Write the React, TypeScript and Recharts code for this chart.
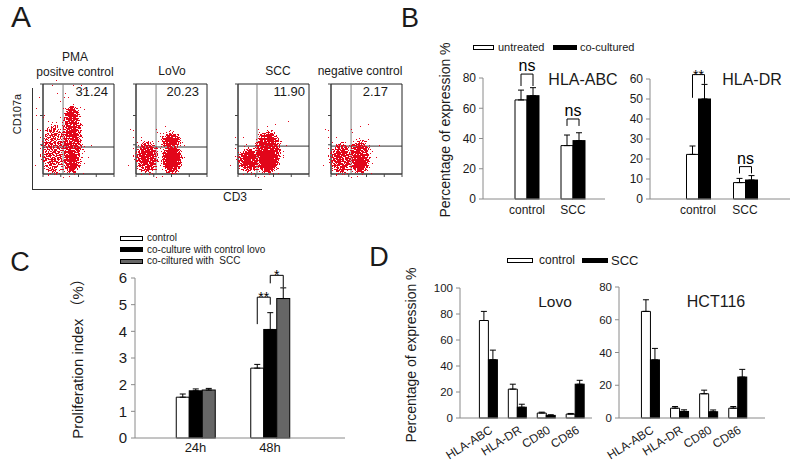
import React from "react";
import {
  Bar,
  BarChart,
  ErrorBar,
  ReferenceArea,
  ReferenceLine,
  Scatter,
  ScatterChart,
  XAxis,
  YAxis,
} from "recharts";

const FONT = '"Liberation Sans", Arial, Helvetica, sans-serif';
const CJK = '"Liberation Sans", Arial, "Noto Sans CJK SC", sans-serif';
const AXIS = "#8a8a8a";
const INK = "#1a1a1a";

// ---------- A: CD107a vs CD3 flow plots (axes in log decades, 0-4) ----------
const flowTitles = ["LoVo", "SCC", "negative control"];
const flowPercents = ["31.24", "20.23", "11.90", "2.17"];
const flowGateX = [1.13, 1.13, 1.07, 1.13];
const flowGateY = [1.2, 1.2, 1.24, 1.24];
const decadeTicks = [0, 0.3, 0.6, 0.78, 0.9, 1, 1.3, 1.6, 1.78, 1.9, 2, 2.3, 2.6, 2.78, 2.9, 3, 3.3, 3.6, 3.78, 3.9, 4];
// event clouds: centre (x, y) and spread (sx, sy) in decades, d = relative event density
const pmaEvents = [
  { x: 0.6, y: 1.1, sx: 0.66, sy: 1.15, d: 0.55 },
  { x: 1.63, y: 1.5, sx: 0.55, sy: 1.45, d: 0.75 },
  { x: 1.63, y: 2.67, sx: 0.38, sy: 0.34, d: 1 },
  { x: 1.63, y: 0.62, sx: 0.45, sy: 0.6, d: 0.95 },
];
const lovoEvents = [
  { x: 0.62, y: 0.76, sx: 0.6, sy: 0.7, d: 0.8 },
  { x: 2.03, y: 0.67, sx: 0.55, sy: 0.65, d: 1 },
  { x: 1.97, y: 1.47, sx: 0.55, sy: 0.33, d: 0.95 },
];
const sccEvents = [
  { x: 0.62, y: 0.62, sx: 0.6, sy: 0.52, d: 0.85 },
  { x: 1.69, y: 0.98, sx: 0.72, sy: 0.92, d: 0.85 },
  { x: 1.69, y: 0.62, sx: 0.6, sy: 0.6, d: 1 },
];
const negEvents = [
  { x: 0.58, y: 0.71, sx: 0.6, sy: 0.7, d: 0.75 },
  { x: 1.63, y: 0.76, sx: 0.55, sy: 0.74, d: 0.85 },
  { x: 1.63, y: 0.49, sx: 0.48, sy: 0.46, d: 1 },
];
const flowEvents = [pmaEvents, lovoEvents, sccEvents, negEvents];

// ---------- B: HLA expression, untreated vs co-cultured ----------
const bCategories = ["control", "SCC"];
const abcUntreated = [65.5, 35.3];
const abcUntreatedErr = [6.5, 7];
const abcCocultured = [68.3, 38.6];
const abcCoculturedErr = [5.3, 5.2];
const abcSigLabel = ["ns", "ns"];
const abcSigTop = [82.6, 52.9];
const abcSigLegL = [74.7, 48.3];
const abcSigLegR = [74.7, 48.3];

const drUntreated = [22.3, 8.2];
const drUntreatedErr = [4.2, 2.1];
const drCocultured = [50, 9.5];
const drCoculturedErr = [7.3, 2.2];
const drSigLabel = ["**", "ns"];
const drSigTop = [62.2, 16.2];
const drSigLegL = [50.6, 12.8];
const drSigLegR = [57.6, 12.8];

// ---------- C: proliferation index ----------
const cCategories = ["24h", "48h"];
const prolifControl = [1.53, 2.62];
const prolifControlErr = [0.12, 0.14];
const prolifLovo = [1.77, 4.07];
const prolifLovoErr = [0.07, 0.63];
const prolifScc = [1.8, 5.23];
const prolifSccErr = [0.06, 0.4];
const lovoSigLabel = ["", "**"];
const lovoSigTop = [0, 5.28];
const lovoSigLegL = [0, 4.27];
const lovoSigLegR = [0, 5.0];
const sccSigLabel = ["", "*"];
const sccSigTop = [0, 6.1];
const sccSigLegL = [0, 5.8];
const sccSigLegR = [0, 5.65];

// ---------- D: Lovo / HCT116 expression ----------
const dCategories = ["HLA-ABC", "HLA-DR", "CD80", "CD86"];
const lovoCtrl = [75, 22.2, 3.8, 3];
const lovoCtrlErr = [7, 3.8, 0.7, 0.5];
const lovoScc = [44.8, 8.3, 2, 26];
const lovoSccErr = [7.4, 2.3, 0.5, 3];
const hctCtrl = [65.1, 6, 14.8, 6];
const hctCtrlErr = [7.1, 1, 2.2, 1];
const hctScc = [35.5, 4, 3.8, 25];
const hctSccErr = [7, 1, 1.1, 4.7];

const abcRows = bCategories.map((cat, i) => ({
  cat, a: abcUntreated[i], aErr: abcUntreatedErr[i], b: abcCocultured[i], bErr: abcCoculturedErr[i],
  sLabel: abcSigLabel[i], sTop: abcSigTop[i], sL: abcSigLegL[i], sR: abcSigLegR[i],
}));
const drRows = bCategories.map((cat, i) => ({
  cat, a: drUntreated[i], aErr: drUntreatedErr[i], b: drCocultured[i], bErr: drCoculturedErr[i],
  sLabel: drSigLabel[i], sTop: drSigTop[i], sL: drSigLegL[i], sR: drSigLegR[i],
}));
const prolifRows = cCategories.map((cat, i) => ({
  cat, a: prolifControl[i], aErr: prolifControlErr[i], b: prolifLovo[i], bErr: prolifLovoErr[i],
  c: prolifScc[i], cErr: prolifSccErr[i],
  sLabel: lovoSigLabel[i], sTop: lovoSigTop[i], sL: lovoSigLegL[i], sR: lovoSigLegR[i],
  tLabel: sccSigLabel[i], tTop: sccSigTop[i], tL: sccSigLegL[i], tR: sccSigLegR[i],
}));
const lovoRows = dCategories.map((cat, i) => ({ cat, a: lovoCtrl[i], aErr: lovoCtrlErr[i], b: lovoScc[i], bErr: lovoSccErr[i] }));
const hctRows = dCategories.map((cat, i) => ({ cat, a: hctCtrl[i], aErr: hctCtrlErr[i], b: hctScc[i], bErr: hctSccErr[i] }));

const upErr = (k: string) => (d: any) => [0, d[k]];

// bar that also draws the significance bracket back to the bar on its left
const bracketBar = (valueKey: string, sig: string) => (props: any) => {
  const { x, y, width, height, fill, payload } = props;
  const body = <rect x={x} y={y} width={width} height={height} fill={fill} stroke="#000" strokeWidth={1} />;
  const label = payload[sig + "Label"];
  if (!label) return body;
  const base = y + height;
  const toPx = (t: number) => base - (t * height) / payload[valueKey];
  const xl = x - width / 2;
  const xr = x + width / 2;
  const top = toPx(payload[sig + "Top"]);
  const star = label.includes("*");
  return (
    <g>
      {body}
      <path
        d={`M${xl},${toPx(payload[sig + "L"])}V${top}H${xr}V${toPx(payload[sig + "R"])}`}
        fill="none"
        stroke="#000"
        strokeWidth={1}
      />
      <text x={(xl + xr) / 2} y={star ? top + 5 : top - 3} textAnchor="middle" fontSize={star ? 14 : 16} fill="#000">
        {label}
      </text>
    </g>
  );
};

const FLOW_PX_X = 71 / 4;
const FLOW_PX_Y = 90 / 4;
function Cloud(props: any) {
  const { cx, cy, payload } = props;
  return (
    <ellipse
      cx={cx}
      cy={cy}
      rx={payload.sx * FLOW_PX_X}
      ry={payload.sy * FLOW_PX_Y}
      fill="#000"
      fillOpacity={payload.d}
      filter="url(#speckle)"
    />
  );
}

const noLabel = () => <g />;

function Txt({ x, y, size = 12, anchor = "middle", family = FONT, children }: any) {
  const tx = anchor === "middle" ? "-50%" : anchor === "end" ? "-100%" : "0";
  return (
    <div
      style={{
        position: "absolute", left: x, top: y, transform: `translate(${tx}, -50%)`,
        fontSize: size, lineHeight: 1, whiteSpace: "nowrap", fontFamily: family,
      }}
    >
      {children}
    </div>
  );
}

function VTxt({ x, y, size = 14, family = FONT, children }: any) {
  return (
    <div
      style={{
        position: "absolute", left: x, top: y, transform: "translate(-50%, -50%) rotate(-90deg)",
        fontSize: size, lineHeight: 1, whiteSpace: "nowrap", fontFamily: family,
      }}
    >
      {children}
    </div>
  );
}

function Swatch({ x, y, w, h = 5, fill }: any) {
  return (
    <div
      style={{
        position: "absolute", left: x, top: y - h / 2, width: w, height: h,
        background: fill, border: "1px solid #000", boxSizing: "border-box",
      }}
    />
  );
}

function FlowPlot({ left, idx }: { left: number; idx: number }) {
  return (
    <div style={{ position: "absolute", left: left - 8, top: 80 }}>
      <ScatterChart width={83} height={102} margin={{ top: 4, right: 4, bottom: 2, left: 0 }}>
        <XAxis type="number" dataKey="x" domain={[0, 4]} ticks={decadeTicks} tick={noLabel} tickSize={3} height={6} stroke="#444" />
        <YAxis type="number" dataKey="y" domain={[0, 4]} ticks={decadeTicks} tick={noLabel} tickSize={3} width={8} stroke="#444" />
        <ReferenceArea x1={0} x2={4} y1={0} y2={4} fill="none" stroke="#222" strokeOpacity={1} fillOpacity={0} />
        <Scatter data={flowEvents[idx]} shape={Cloud} isAnimationActive={false} />
        <ReferenceLine x={flowGateX[idx]} stroke="#7a7a7a" />
        <ReferenceLine y={flowGateY[idx]} stroke="#333" />
      </ScatterChart>
    </div>
  );
}

function PairChart({ left, top, width, height, margin, rows, domain, ticks, padL, padR, barSize, fontSize, angled }: any) {
  return (
    <div style={{ position: "absolute", left, top }}>
      <BarChart width={width} height={height} data={rows} margin={margin} barGap={0} barSize={barSize} style={{ fontFamily: FONT }}>
        <XAxis
          dataKey="cat"
          interval={0}
          padding={{ left: padL, right: padR }}
          tickLine={false}
          tickSize={0}
          tickMargin={angled ? 7 : 6}
          height={angled ? 48 : 20}
          stroke={AXIS}
          tick={angled ? { fontSize: 12, fill: INK, angle: -32, textAnchor: "end" } : { fontSize: 12, fill: INK }}
        />
        <YAxis
          type="number"
          domain={domain}
          ticks={ticks}
          interval={0}
          width={30}
          tickSize={4}
          tickMargin={3}
          stroke={AXIS}
          tick={{ fontSize, fill: INK }}
        />
        <Bar dataKey="a" fill="#fff" stroke="#000" strokeWidth={1} isAnimationActive={false}>
          <ErrorBar dataKey={upErr("aErr")} width={3} stroke="#000" strokeWidth={1} />
        </Bar>
        <Bar dataKey="b" fill="#000" shape={bracketBar("b", "s")} isAnimationActive={false}>
          <ErrorBar dataKey={upErr("bErr")} width={3} stroke="#000" strokeWidth={1} />
        </Bar>
      </BarChart>
    </div>
  );
}

export default function App() {
  return (
    <div
      style={{
        position: "relative", width: 800, height: 467, background: "#fff",
        fontFamily: FONT, color: INK, overflow: "hidden",
      }}
    >
      <style>{"body{margin:0}"}</style>
      <svg width={0} height={0} style={{ position: "absolute" }}>
        <defs>
          <filter id="speckle" x="-50%" y="-50%" width="200%" height="200%" colorInterpolationFilters="sRGB">
            <feGaussianBlur in="SourceAlpha" stdDeviation="2.5" result="soft" />
            <feTurbulence type="fractalNoise" baseFrequency="0.75" numOctaves={1} seed={7} result="noise" />
            <feColorMatrix in="noise" type="matrix" values="0 0 0 0 0  0 0 0 0 0  0 0 0 0 0  2.2 0 0 0 -0.6" result="na" />
            <feComposite in="soft" in2="na" operator="arithmetic" k1={0} k2={1} k3={1} k4={-0.5} result="mix" />
            <feComponentTransfer in="mix" result="dots">
              <feFuncA type="discrete" tableValues="0 1" />
            </feComponentTransfer>
            <feFlood floodColor="#e2061a" />
            <feComposite in2="dots" operator="in" />
          </filter>
        </defs>
      </svg>

      {/* ---------------- A ---------------- */}
      <Txt x={21} y={17} size={30}>A</Txt>
      <Txt x={75} y={57}>PMA</Txt>
      <Txt x={75} y={72}>positve control</Txt>
      <Txt x={172} y={71}>{flowTitles[0]}</Txt>
      <Txt x={278} y={71}>{flowTitles[1]}</Txt>
      <Txt x={360} y={71}>{flowTitles[2]}</Txt>
      <div
        style={{
          position: "absolute", left: 32, top: 88, width: 229, height: 101,
          borderLeft: "1px solid #333", borderBottom: "1px solid #333",
        }}
      />
      <VTxt x={17} y={114} size={11}>CD107a</VTxt>
      <Txt x={235} y={197}>CD3</Txt>
      {[43, 136, 238, 331].map((l, i) => (
        <FlowPlot key={i} left={l} idx={i} />
      ))}
      {[108, 199, 305, 388].map((r, i) => (
        <Txt key={i} x={r} y={91} size={13} anchor="end">{flowPercents[i]}</Txt>
      ))}

      {/* ---------------- B ---------------- */}
      <Txt x={410} y={18} size={27}>B</Txt>
      <Swatch x={473} y={47} w={21} fill="#fff" />
      <Txt x={498} y={47} size={11} anchor="start">untreated</Txt>
      <Swatch x={553} y={47} w={24} fill="#000" />
      <Txt x={580} y={47} size={11} anchor="start">co-cultured</Txt>
      <VTxt x={445} y={130} size={14}>Percentage of expression %</VTxt>
      <PairChart
        left={450} top={50} width={160} height={174}
        margin={{ top: 28, right: 5, bottom: 5, left: 3 }}
        rows={abcRows} domain={[0, 80]} ticks={[0, 20, 40, 60, 80]}
        padL={21} padR={9} barSize={12} fontSize={12}
      />
      <PairChart
        left={617} top={50} width={178} height={174}
        margin={{ top: 29, right: 5, bottom: 5, left: 3 }}
        rows={drRows} domain={[0, 60]} ticks={[0, 10, 20, 30, 40, 50, 60]}
        padL={24.5} padR={21.5} barSize={12} fontSize={12}
      />
      <Txt x={583} y={80} size={16}>HLA-ABC</Txt>
      <Txt x={752} y={80} size={16}>HLA-DR</Txt>

      {/* ---------------- C ---------------- */}
      <Txt x={20} y={262} size={27}>C</Txt>
      <Swatch x={120} y={238} w={23} fill="#fff" />
      <Txt x={147} y={238} size={10} anchor="start">control</Txt>
      <Swatch x={120} y={249.5} w={23} fill="#000" />
      <Txt x={147} y={249.5} size={10} anchor="start">co-culture with control lovo</Txt>
      <Swatch x={120} y={261} w={23} fill="#666" />
      <Txt x={147} y={261} size={10} anchor="start">co-ciltured with&nbsp;&nbsp;SCC</Txt>
      <VTxt x={77} y={355} size={15} family={CJK}>Proliferation index （%）</VTxt>
      <div style={{ position: "absolute", left: 100, top: 250 }}>
        <BarChart
          width={250} height={213} data={prolifRows}
          margin={{ top: 28, right: 5, bottom: 5, left: 5 }}
          barGap={0} barSize={13} style={{ fontFamily: FONT }}
        >
          <XAxis
            dataKey="cat" interval={0} padding={{ left: 23.25, right: 37.75 }}
            tickLine={false} tickSize={0} tickMargin={5} height={20} stroke={AXIS}
            tick={{ fontSize: 13, fill: INK }}
          />
          <YAxis
            type="number" domain={[0, 6]} ticks={[0, 1, 2, 3, 4, 5, 6]} interval={0} width={30}
            tickSize={4} tickMargin={4} stroke={AXIS} tick={{ fontSize: 15, fill: INK }}
          />
          <Bar dataKey="a" fill="#fff" stroke="#000" strokeWidth={1} isAnimationActive={false}>
            <ErrorBar dataKey={upErr("aErr")} width={3} stroke="#000" strokeWidth={1} />
          </Bar>
          <Bar dataKey="b" fill="#000" shape={bracketBar("b", "s")} isAnimationActive={false}>
            <ErrorBar dataKey={upErr("bErr")} width={3} stroke="#000" strokeWidth={1} />
          </Bar>
          <Bar dataKey="c" fill="#666" shape={bracketBar("c", "t")} isAnimationActive={false}>
            <ErrorBar dataKey={upErr("cErr")} width={3} stroke="#000" strokeWidth={1} />
          </Bar>
        </BarChart>
      </div>

      {/* ---------------- D ---------------- */}
      <Txt x={379} y={257} size={27}>D</Txt>
      <Swatch x={507} y={260} w={26} fill="#fff" />
      <Txt x={539} y={260} size={12} anchor="start">control</Txt>
      <Swatch x={582} y={260} w={26} fill="#000" />
      <Txt x={611} y={260} size={13} anchor="start">SCC</Txt>
      <VTxt x={411} y={355} size={14}>Percentage of expression %</VTxt>
      <PairChart
        left={425} top={280} width={172} height={187}
        margin={{ top: 8, right: 5, bottom: 1, left: 5 }}
        rows={lovoRows} domain={[0, 100]} ticks={[0, 20, 40, 60, 80, 100]}
        padL={14.4} padR={1.9} barSize={9} fontSize={11.5} angled
      />
      <PairChart
        left={584} top={280} width={186} height={187}
        margin={{ top: 7, right: 5, bottom: 1, left: 5 }}
        rows={hctRows} domain={[0, 80]} ticks={[0, 20, 40, 60, 80]}
        padL={16.45} padR={13.15} barSize={9} fontSize={11.5} angled
      />
      <Txt x={555} y={302} size={15.5}>Lovo</Txt>
      <Txt x={716} y={302} size={16}>HCT116</Txt>
    </div>
  );
}
